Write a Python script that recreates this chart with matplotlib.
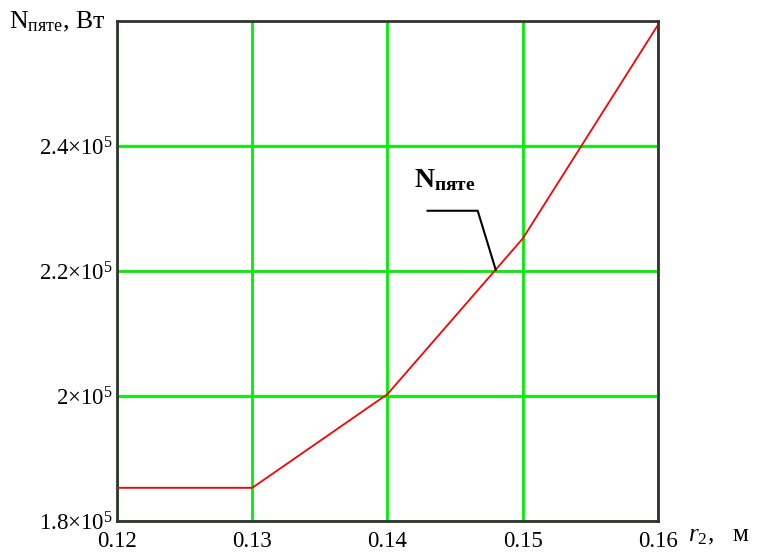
import numpy as np
import matplotlib.pyplot as plt
from matplotlib.ticker import FuncFormatter

plt.rcParams['font.family'] = ['Liberation Serif', 'DejaVu Serif']
plt.rcParams['mathtext.fontset'] = 'custom'
plt.rcParams['mathtext.rm'] = 'Liberation Serif'
plt.rcParams['mathtext.it'] = 'Liberation Serif:italic'
plt.rcParams['mathtext.bf'] = 'Liberation Serif:bold'

# радиус r2, м  /  мощность N_пяте, Вт
r2 = [0.12, 0.13, 0.14, 0.15, 0.16]
N_pyate = [1.853e5, 1.853e5, 2.003e5, 2.252e5, 2.594e5]

x_ticks = [0.12, 0.13, 0.14, 0.15, 0.16]
y_ticks = [1.8e5, 2.0e5, 2.2e5, 2.4e5]

fig = plt.figure(figsize=(7.62, 5.56), dpi=100)
ax = fig.add_axes([0.1535, 0.063, 0.71, 0.899])

ax.plot(r2, N_pyate, color='#ff0000', lw=1.3, zorder=3)

ax.set_xlim(0.12, 0.16)
ax.set_ylim(1.8e5, 2.6e5)
ax.set_xticks(x_ticks)
ax.set_yticks(y_ticks)
ax.grid(True, color='#00ee00', lw=2)
ax.tick_params(length=0, labelsize=16.5)
ax.tick_params(axis='x', pad=7)
ax.tick_params(axis='y', pad=3)
ax.xaxis.set_major_formatter(FuncFormatter(lambda v, p: f'{v:.2f}'))


def sci(v, p):
    m = v / 1e5
    s = f'{m:g}'
    return s + r'$\times$' + '10$^5$'


ax.yaxis.set_major_formatter(FuncFormatter(sci))
for sp in ax.spines.values():
    sp.set_color('#333333')
    sp.set_linewidth(2)

# подписи осей
fig.text(9 / 762, 1 - 22 / 556, r'N$_{\mathregular{пяте}}$, Вт', fontsize=18.5,
         ha='left', va='center')
fig.text(688 / 762, 1 - 536 / 556, r'$\mathit{r}_{2}$,   м', fontsize=18,
         ha='left', va='center')

# выноска
xa = 0.148
ya = np.interp(xa, r2, N_pyate)
ax.plot([0.14296, 0.14667, xa], [2.2965e5, 2.2965e5, ya], color='black', lw=1.5, zorder=4)
ax.text(0.14195, 2.335e5, r'$\mathbf{N}_{\mathbf{\mathregular{пяте}}}$', fontsize=20,
        ha='left', va='baseline', fontweight='bold')

fig.savefig('out.png', dpi=100)
